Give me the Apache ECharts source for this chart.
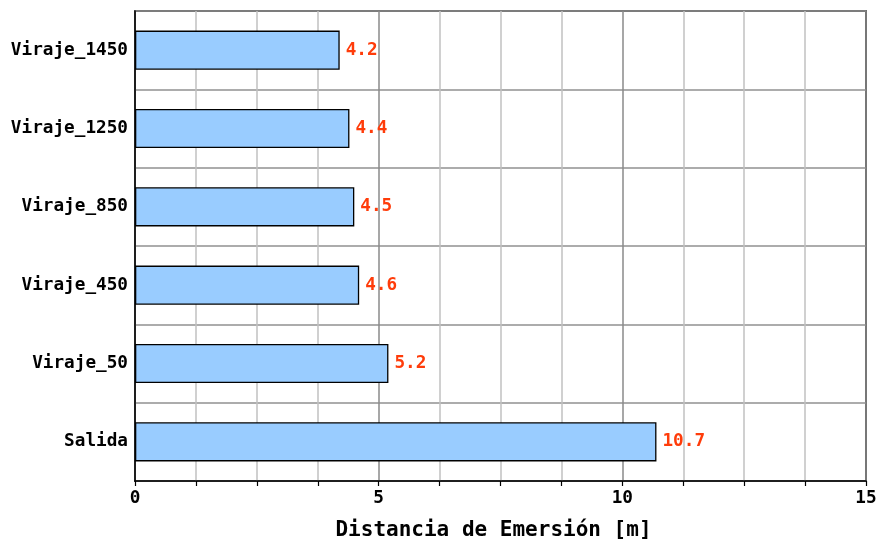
<!DOCTYPE html>
<html><head><meta charset="utf-8">
<script src="https://cdn.jsdelivr.net/npm/echarts@6/dist/echarts.min.js"></script>
<style>html,body{margin:0;padding:0;background:#fff}#c{width:877px;height:546px}</style>
</head><body><div id="c"></div>
<script>
var categories = ['Salida', 'Viraje_50', 'Viraje_450', 'Viraje_850', 'Viraje_1250', 'Viraje_1450'];
var values = [10.7, 5.2, 4.6, 4.5, 4.4, 4.2];
var xTickLabels = [0, 5, 10, 15];
var xTitle = 'Distancia de Emersión [m]';

var font = 'DejaVu Sans Mono';
var chart = echarts.init(document.getElementById('c'));
chart.setOption({
  animation: false,
  grid: {left: 135, right: 11, top: 11, bottom: 65, show: true, borderColor: '#000', borderWidth: 1.5,
    backgroundColor: 'transparent', outerBoundsMode: 'none', containLabel: false},
  xAxis: {
    type: 'value', min: 0, max: 15, interval: 1.25,
    name: xTitle, nameLocation: 'middle', nameGap: 39,
    nameTextStyle: {fontFamily: font, fontWeight: 'bold', fontSize: 21, color: '#000', padding: [0, 14, 0, 0]},
    axisLine: {show: true, lineStyle: {color: '#000', width: 1.5}},
    axisTick: {show: true, length: 5, lineStyle: {color: '#000', width: 1.2}},
    axisLabel: {
      fontFamily: font, fontWeight: 'bold', fontSize: 17.7, color: '#000', margin: 8,
      formatter: function (v) { return xTickLabels.indexOf(v) >= 0 ? String(v) : ''; }
    },
    splitLine: {show: true, lineStyle: {color: ['#8a8a8a', '#c0c0c0', '#c0c0c0', '#c0c0c0'], width: 1.5}}
  },
  yAxis: {
    type: 'category', data: categories,
    axisLine: {show: true, lineStyle: {color: '#000', width: 1.5}},
    axisTick: {show: false},
    axisLabel: {fontFamily: font, fontWeight: 'bold', fontSize: 17.7, color: '#000', margin: 7, padding: [2, 0, 0, 0]},
    splitLine: {show: true, lineStyle: {color: '#909090', width: 1.5}}
  },
  series: [{
    type: 'bar', data: values, barWidth: '50%',
    itemStyle: {color: '#99ccff', borderColor: '#000', borderWidth: 1.3},
    label: {show: true, position: 'right', distance: 6, fontFamily: font, fontWeight: 'bold', fontSize: 17.7, color: '#ff3c0a',
      formatter: function (p) { return p.value.toFixed(1); }}
  }]
});
</script></body></html>
